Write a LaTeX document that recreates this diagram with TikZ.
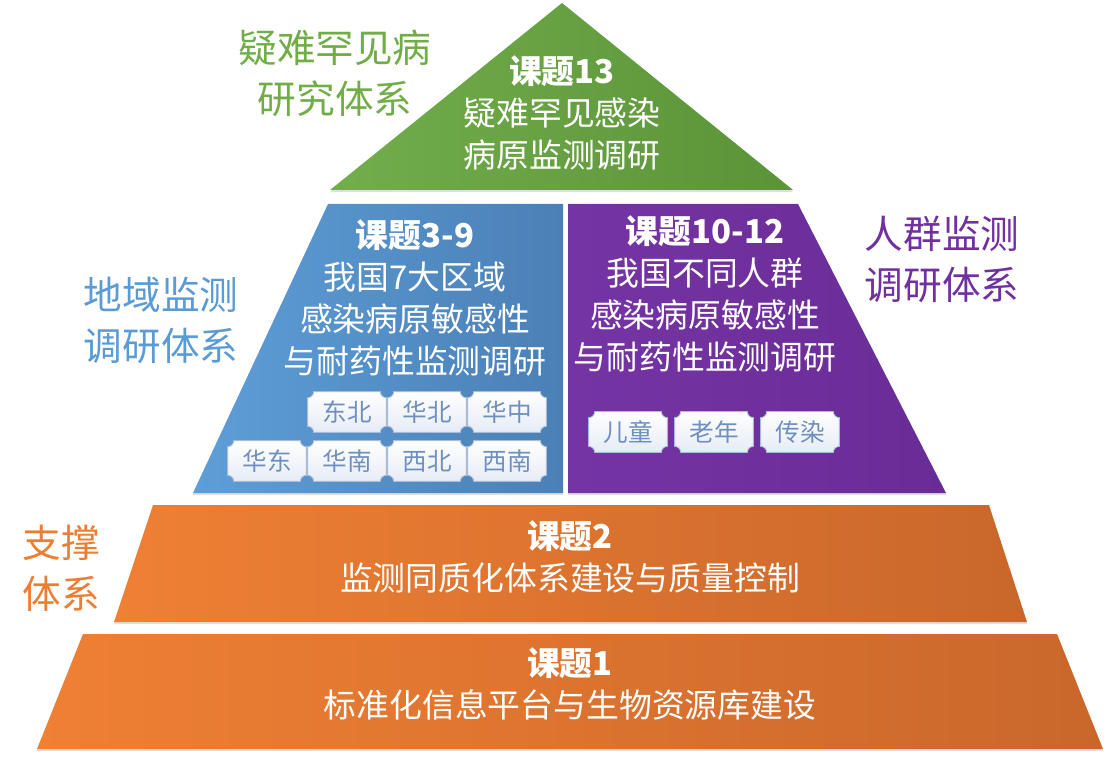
\documentclass[tikz,border=0pt]{standalone}
\usepackage{fontspec}
\setmainfont{Noto Sans CJK SC}
\usepackage{tikz}
\usetikzlibrary{calc,shadows}
\definecolor{vertC}{HTML}{72AE4C}
\definecolor{vertF}{HTML}{5B9338}
\definecolor{bleuC}{HTML}{5E9ED8}
\definecolor{bleuF}{HTML}{4A80B6}
\definecolor{violC}{HTML}{7534A4}
\definecolor{violF}{HTML}{692C96}
\definecolor{orC}{HTML}{EF8034}
\definecolor{orF}{HTML}{C9672B}
\definecolor{vertL}{HTML}{70AD47}
\definecolor{bleuL}{HTML}{5B9BD5}
\definecolor{violL}{HTML}{7030A0}
\definecolor{orL}{HTML}{ED7D31}
\definecolor{tagT}{HTML}{6F8FBE}
\definecolor{tagB}{HTML}{A9BCD8}
\definecolor{tagF}{HTML}{E6EBF5}
\tikzset{
  couche/.style={left color=#1C, right color=#1F,
                 drop shadow={shadow xshift=0pt, shadow yshift=-1.2pt, opacity=0.25}},
  titre/.style={text=white, align=center, font=\fontsize{18.7}{24}\selectfont},
  legende/.style={text=#1, align=center, font=\fontsize{22}{29}\selectfont},
  etiq/.style={minimum width=1.56cm, minimum height=0.8cm, inner sep=0pt},
  etiqtxt/.style={text=tagT, font=\fontsize{14}{16}\selectfont},
  etiqbord/.style={draw=tagB, line width=0.5pt, top color=white, bottom color=tagF},
}
\newcommand{\ticket}[3]{%
  \node[etiq] (#1) at #2 {};
  \path[etiqbord] ($(#1.south west)+(3.4pt,0)$) -- ($(#1.south east)+(-3.4pt,0)$)
    arc[start angle=180, end angle=90, radius=3.4pt] -- ($(#1.north east)+(0,-3.4pt)$)
    arc[start angle=270, end angle=180, radius=3.4pt] -- ($(#1.north west)+(3.4pt,0)$)
    arc[start angle=0, end angle=-90, radius=3.4pt] -- ($(#1.south west)+(0,3.4pt)$)
    arc[start angle=90, end angle=0, radius=3.4pt] -- cycle;
  \node[etiqtxt] (#1t) at (#1) {#3};
}
\begin{document}
\begin{tikzpicture}[x=0.02cm, y=0.02cm]
    \useasboundingbox (0,0) rectangle (1112,-760);
    % Couches
    \path[couche=vert] (562,-3) -- (793,-190) -- (330,-190) -- cycle;
    \path[couche=bleu] (328,-204) -- (563,-204) -- (563,-493) -- (193,-493) -- cycle;
    \path[couche=viol] (568,-204) -- (798,-204) -- (946,-493) -- (568,-493) -- cycle;
    \path[couche=or] (153,-505) -- (989,-505) -- (1027,-622) -- (114,-622) -- cycle;
    \path[couche=or] (83,-634) -- (1057,-634) -- (1103,-749) -- (37,-749) -- cycle;
    % Textes des couches
    \node[titre] (k13) at (562,-113) {\textbf{课题13}\\疑难罕见感染\\病原监测调研};
    \node[titre] (k39) at (415,-298) {\textbf{课题3-9}\\我国7大区域\\感染病原敏感性\\与耐药性监测调研};
    \node[titre] (k1012) at (705,-294) {\textbf{课题10-12}\\我国不同人群\\感染病原敏感性\\与耐药性监测调研};
    \node[titre] (k2) at (570,-557) {\textbf{课题2}\\监测同质化体系建设与质量控制};
    \node[titre] (k1) at (570,-684) {\textbf{课题1}\\标准化信息平台与生物资源库建设};
    % Etiquettes
    \foreach \nom/\px/\py/\txt in {dbei/347/412/东北, hbei/427/412/华北, hzhong/507/412/华中,
        hdong/267/461/华东, hnan/347/461/华南, xbei/427/461/西北, xnan/507/461/西南,
        ertong/628/432/儿童, laonian/714/432/老年, chuanran/800/432/传染}
      {\ticket{\nom}{(\px,-\py)}{\txt}}
    % Légendes
    \node[legende=vertL] (lrare) at (335,-73) {疑难罕见病\\研究体系};
    \node[legende=bleuL] (lgeo) at (161,-320) {地域监测\\调研体系};
    \node[legende=violL] (lpop) at (942,-259) {人群监测\\调研体系};
    \node[legende=orL] (lsup) at (61,-568) {支撑\\体系};
\end{tikzpicture}
\end{document}
